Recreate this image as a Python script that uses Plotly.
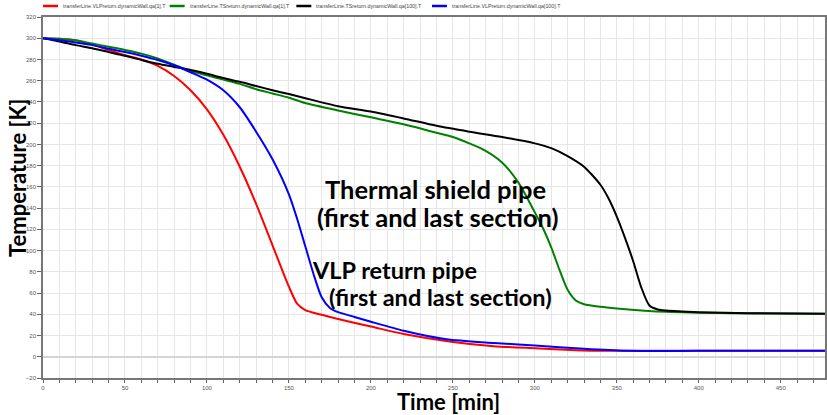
import plotly.graph_objects as go

# Wall temperatures during cool-down of the transfer line
names = [
    "transferLine.VLPreturn.dynamicWall.qa[1].T",
    "transferLine.TSreturn.dynamicWall.qa[1].T",
    "transferLine.TSreturn.dynamicWall.qa[100].T",
    "transferLine.VLPreturn.dynamicWall.qa[100].T",
]
colors = ["#ff0000", "#008000", "#000000", "#0000ff"]

vlp1_time = [0, 10, 20, 30, 40, 50, 60, 70, 80, 90, 100, 110, 120, 130, 140, 150, 155, 160, 170, 180, 200, 220, 250, 275, 300, 325, 345, 400, 477]
vlp1_temp = [300, 299.5, 298, 294, 289, 284, 280, 274, 264.5, 251, 233, 209, 179, 144, 105, 66, 50, 44, 39.5, 35.5, 28.5, 21.5, 14, 10, 8, 6.2, 5.6, 5.6, 5.6]

ts1_time = [0, 10, 20, 30, 40, 50, 60, 70, 80, 90, 100, 110, 120, 130, 140, 150, 160, 180, 200, 220, 240, 250, 260, 270, 280, 290, 300, 305, 310, 315, 320, 325, 330, 340, 350, 380, 420, 477]
ts1_temp = [300, 299.5, 298, 295, 292, 289, 285.5, 281, 275, 269, 265, 261, 257, 252, 248, 244, 239, 232, 225.5, 219, 211, 207, 201, 194, 183, 164, 136, 121, 103, 82, 63, 53, 49.5, 47, 45.5, 42.3, 41, 40.5]

ts100_time = [0, 10, 20, 30, 40, 50, 60, 70, 80, 90, 100, 110, 120, 130, 140, 150, 160, 180, 200, 220, 240, 260, 280, 300, 310, 320, 330, 340, 345, 350, 355, 360, 365, 370, 375, 380, 400, 430, 477]
ts100_temp = [300, 297, 293.5, 290.5, 287, 283.5, 279.5, 276, 273, 270, 266.5, 262.5, 259, 255, 251, 247.4, 243.5, 236, 231, 224.5, 217.5, 212, 207, 201, 196.5, 189, 179, 162, 149, 132, 112, 90, 65, 48, 44.5, 43.5, 42, 41, 40.5]

vlp100_time = [0, 10, 20, 30, 40, 50, 60, 70, 80, 90, 100, 110, 120, 130, 140, 150, 155, 160, 165, 170, 175, 180, 190, 200, 220, 246, 275, 300, 330, 356, 400, 477]
vlp100_temp = [300, 298, 296, 293.5, 290, 287, 283.5, 279.5, 274.5, 268, 261, 251, 235, 212, 186, 153, 130, 104, 78, 56, 46, 42, 37.5, 33, 24.5, 16.5, 13, 10.6, 7.5, 5.6, 5.6, 5.6]

series = [
    (vlp1_time, vlp1_temp),
    (ts1_time, ts1_temp),
    (ts100_time, ts100_temp),
    (vlp100_time, vlp100_temp),
]

fig = go.Figure()
for (t, T), name, color in zip(series, names, colors):
    fig.add_trace(go.Scatter(
        x=t, y=T, mode="lines", name=name, showlegend=False,
        line=dict(color=color, width=2, shape="spline", smoothing=0.7),
    ))

# plot area geometry in pixels, used to place the key above the axes
PL, PR, PT, PB = 43, 827, 17, 378
def px_x(v):
    return (v - PL) / (PR - PL)
def px_y(v):
    return (PB - v) / (PB - PT)

# key row: line sample + label for each series
key_left = [43, 170, 297, 433]
shapes = []
annotations = []
for left, name, color in zip(key_left, names, colors):
    shapes.append(dict(type="line", xref="paper", yref="paper",
                       x0=px_x(left), x1=px_x(left + 15), y0=px_y(6), y1=px_y(6),
                       line=dict(color=color, width=2.5)))
    annotations.append(dict(text=name, xref="paper", yref="paper",
                            x=px_x(left + 18), y=px_y(6), showarrow=False,
                            xanchor="left", yanchor="middle",
                            font=dict(family="Liberation Sans", size=5.3, color="#444444")))

title_font = dict(family="Lato", size=22, color="#000000")
ts_font = dict(family="Lato", size=25.5, color="#000000")
vlp_font = dict(family="Lato", size=23.5, color="#000000")

annotations += [
    # axis titles
    dict(text="<b>Temperature [K]</b>", xref="paper", yref="paper",
         x=-26 / 784, y=0.554, textangle=-90, showarrow=False,
         xanchor="center", yanchor="middle", font=title_font),
    dict(text="<b>Time [min]</b>", xref="paper", yref="paper",
         x=0.518, y=-0.066, showarrow=False,
         xanchor="center", yanchor="middle", font=title_font),
    # curve labels
    dict(text="<b>Thermal shield pipe</b>", x=171, y=158, xref="x", yref="y",
         showarrow=False, xanchor="left", yanchor="middle", font=ts_font),
    dict(text="<b>(first and last section)</b>", x=166, y=132, xref="x", yref="y",
         showarrow=False, xanchor="left", yanchor="middle", font=ts_font),
    dict(text="<b>VLP return pipe</b>", x=163, y=82, xref="x", yref="y",
         showarrow=False, xanchor="left", yanchor="middle", font=vlp_font),
    dict(text="<b>(first and last section)</b>", x=173, y=56, xref="x", yref="y",
         showarrow=False, xanchor="left", yanchor="middle", font=vlp_font),
]

fig.update_layout(
    width=827, height=415,
    margin=dict(l=PL, r=827 - PR, t=PT, b=415 - PB),
    paper_bgcolor="white", plot_bgcolor="white",
    showlegend=False,
    xaxis=dict(
        range=[0, 477], dtick=50, tick0=0,
        showgrid=True, gridcolor="#e6e6e6", gridwidth=1,
        minor=dict(dtick=10, showgrid=True, gridcolor="#e6e6e6", ticks="outside", ticklen=3, tickcolor="#666666"),
        ticks="outside", ticklen=3, tickcolor="#666666",
        showline=True, linecolor="#777777", linewidth=1.5, mirror=True,
        zeroline=False,
        tickfont=dict(family="Liberation Sans", size=6, color="#555555"),
    ),
    yaxis=dict(
        range=[-20, 320], dtick=20, tick0=0,
        showgrid=True, gridcolor="#e6e6e6", gridwidth=1,
        ticks="outside", ticklen=4, tickcolor="#666666",
        showline=True, linecolor="#777777", linewidth=1.5, mirror=True,
        zeroline=True, zerolinecolor="#d4d4d4", zerolinewidth=1.5,
        tickfont=dict(family="Liberation Sans", size=6, color="#555555"),
    ),
    shapes=shapes,
    annotations=annotations,
)

fig.write_html("out.html")
